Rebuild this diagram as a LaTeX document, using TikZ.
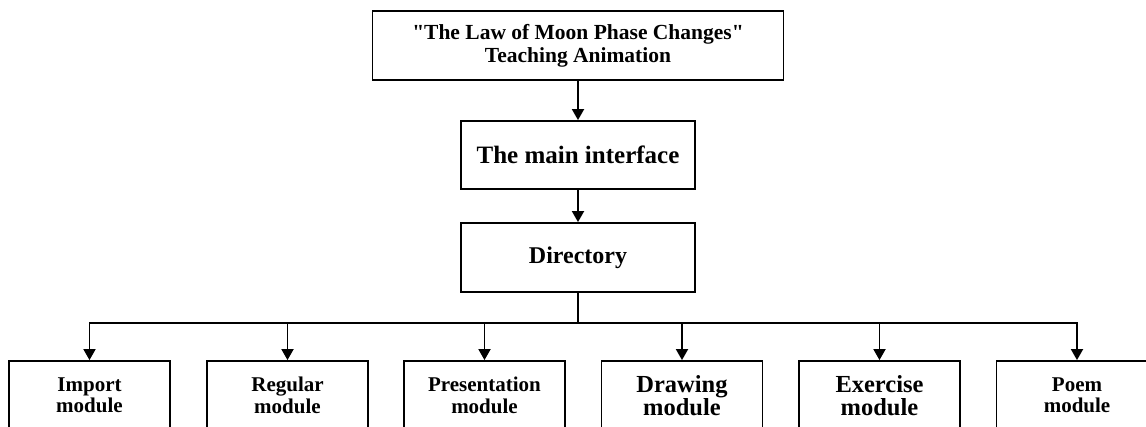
\documentclass[tikz,border=0pt]{standalone}
\usepackage{fontspec}
\setmainfont{Liberation Serif}[Ligatures=TeXOff]
\usetikzlibrary{arrows.meta}
\begin{document}
\begin{tikzpicture}[x=1pt,y=-1pt,
  box/.style={draw,line width=1.8pt,inner sep=0pt,align=center,font=\bfseries},
  smallf/.style={font=\bfseries\fontsize{21}{21.5}\selectfont},
  bigf/.style={font=\bfseries\fontsize{24.5}{22.5}\selectfont},
  link/.style={line width=1.8pt},
  arr/.style={line width=1.8pt,-{Triangle[length=11pt,width=12pt]}}]
\useasboundingbox (0,0) rectangle (1146,427);
\clip (0,0) rectangle (1146,427);
\node[box,minimum width=411pt,minimum height=69pt,font=\bfseries\fontsize{21.5}{22.7}\selectfont] (top) at (578,45.5) {"The Law of Moon Phase Changes"\\Teaching Animation};
\node[box,minimum width=234pt,minimum height=68pt,font=\bfseries\fontsize{25}{27}\selectfont] (main) at (578,155) {The main interface};
\node[box,minimum width=234pt,minimum height=69pt,font=\bfseries\fontsize{24}{26}\selectfont] (dir) at (578,257.5) {Directory};
\node[box,smallf,minimum width=161pt,minimum height=69pt] (m1) at (89.5,395.5) {Import\\module};
\node[box,smallf,minimum width=161pt,minimum height=69pt] (m2) at (287.5,395.5) {Regular\\module};
\node[box,smallf,minimum width=161pt,minimum height=69pt] (m3) at (484.5,395.5) {Presentation\\module};
\node[box,bigf,minimum width=161pt,minimum height=69pt] (m4) at (682,395.5) {Drawing\\module};
\node[box,bigf,minimum width=161pt,minimum height=69pt] (m5) at (879.5,395.5) {Exercise\\module};
\node[box,smallf,minimum width=161pt,minimum height=69pt] (m6) at (1077,395.5) {Poem\\module};
\coordinate (bus) at (578,323);
\draw[arr] (top) -- (main);
\draw[arr] (main) -- (dir);
\draw[link] (dir.south) -- (bus);
\foreach \m in {m1,m2,m3,m4,m5,m6}{
  \draw[arr] (bus) -| (\m.north);
}
\end{tikzpicture}
\end{document}
